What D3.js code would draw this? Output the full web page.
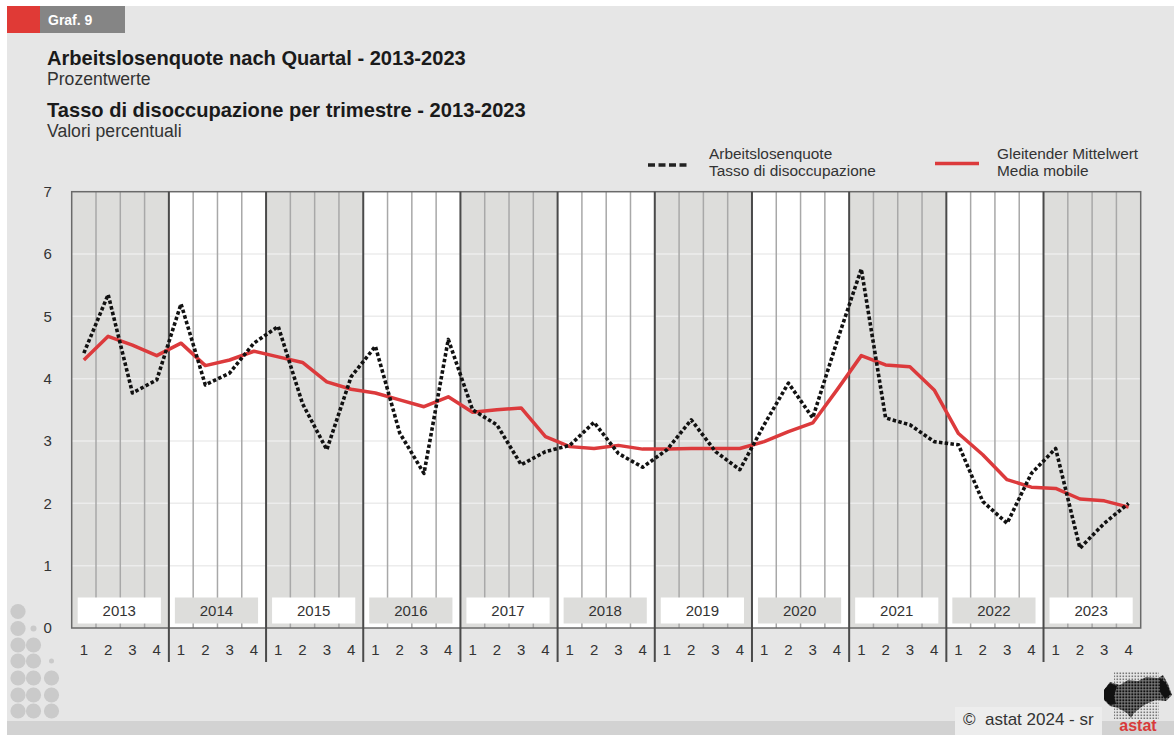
<!DOCTYPE html>
<html>
<head>
<meta charset="utf-8">
<script src="https://cdn.jsdelivr.net/npm/d3@7/dist/d3.min.js"></script>
<style>
  html, body { margin: 0; padding: 0; background: #ffffff; }
  svg { display: block; font-family: "Liberation Sans", Arial, Helvetica, sans-serif; }
</style>
</head>
<body>
<svg id="chart" width="1174" height="735"></svg>
<script>
// ---- data ----
const years = [2013, 2014, 2015, 2016, 2017, 2018, 2019, 2020, 2021, 2022, 2023];
const quarters = ["1", "2", "3", "4"];
const yTicks = [0, 1, 2, 3, 4, 5, 6, 7];
// Arbeitslosenquote / Tasso di disoccupazione (quarterly, %)
const rate = [4.41, 5.35, 3.77, 3.98, 5.20, 3.90, 4.09, 4.57, 4.84, 3.60, 2.86, 4.03,
              4.52, 3.13, 2.48, 4.63, 3.50, 3.26, 2.62, 2.83, 2.93, 3.30, 2.80, 2.58,
              2.86, 3.34, 2.83, 2.54, 3.26, 3.93, 3.37, 4.60, 5.76, 3.37, 3.26, 2.99,
              2.94, 2.03, 1.68, 2.48, 2.88, 1.28, 1.68, 2.00];
// Gleitender Mittelwert / Media mobile
const movingAvg = [4.30, 4.68, 4.54, 4.37, 4.57, 4.21, 4.30, 4.44, 4.35, 4.26, 3.95, 3.83,
                   3.77, 3.66, 3.55, 3.71, 3.46, 3.50, 3.53, 3.07, 2.91, 2.88, 2.93, 2.87,
                   2.87, 2.88, 2.88, 2.88, 2.99, 3.15, 3.29, 3.82, 4.37, 4.22, 4.19, 3.82,
                   3.12, 2.78, 2.38, 2.26, 2.24, 2.07, 2.04, 1.94];
const titleDe = "Arbeitslosenquote nach Quartal - 2013-2023";
const subDe = "Prozentwerte";
const titleIt = "Tasso di disoccupazione per trimestre - 2013-2023";
const subIt = "Valori percentuali";
const legendRate = ["Arbeitslosenquote", "Tasso di disoccupazione"];
const legendAvg = ["Gleitender Mittelwert", "Media mobile"];

// ---- layout ----
const W = 1174, H = 735;
const plot = { left: 71.7, right: 1140.7, top: 191.7, bottom: 628 };
const C = {
  page: "#e6e6e6", band: "#dddddb", white: "#ffffff", text: "#333333",
  red: "#dc3a3c", frame: "#6a6a6a", qline: "#a8a8a8", yline: "#4a4a4a"
};

const svg = d3.select("#chart");

// page background
svg.append("rect").attr("x", 0).attr("y", 0).attr("width", W).attr("height", H).attr("fill", "#ffffff");
svg.append("rect").attr("x", 7).attr("y", 6).attr("width", W - 7).attr("height", H - 6).attr("fill", C.page);
svg.append("rect").attr("x", 7).attr("y", 721).attr("width", W - 7).attr("height", 14).attr("fill", "#d2d2d2");

// header tag
svg.append("rect").attr("x", 7).attr("y", 6).attr("width", 33).attr("height", 27).attr("fill", "#e03a36");
svg.append("rect").attr("x", 40).attr("y", 6).attr("width", 85).attr("height", 27).attr("fill", "#858585");
svg.append("text").attr("x", 48).attr("y", 24.5).attr("fill", "#ffffff")
  .attr("font-size", 14).attr("font-weight", "bold").text("Graf. 9");

// titles
svg.append("text").attr("x", 47).attr("y", 65).attr("font-size", 20.1).attr("font-weight", "bold").attr("fill", "#1a1a1a").text(titleDe);
svg.append("text").attr("x", 47).attr("y", 85).attr("font-size", 17.6).attr("fill", "#333").text(subDe);
svg.append("text").attr("x", 47).attr("y", 117).attr("font-size", 20.1).attr("font-weight", "bold").attr("fill", "#1a1a1a").text(titleIt);
svg.append("text").attr("x", 47).attr("y", 136.5).attr("font-size", 17.6).attr("fill", "#333").text(subIt);

// legend
const lg = svg.append("g");
lg.append("line").attr("x1", 648).attr("x2", 690).attr("y1", 165).attr("y2", 165)
  .attr("stroke", "#222").attr("stroke-width", 3.5).attr("stroke-dasharray", "7 3.5");
lg.selectAll("text.l1").data(legendRate).join("text").attr("class", "l1")
  .attr("x", 709).attr("y", (d, i) => 159 + i * 17).attr("font-size", 15.4).attr("fill", "#333").text(d => d);
lg.append("line").attr("x1", 935).attr("x2", 979).attr("y1", 163.5).attr("y2", 163.5)
  .attr("stroke", C.red).attr("stroke-width", 3.5);
lg.selectAll("text.l2").data(legendAvg).join("text").attr("class", "l2")
  .attr("x", 997).attr("y", (d, i) => 159 + i * 17).attr("font-size", 15.4).attr("fill", "#333").text(d => d);

// scales
const idx = d3.range(years.length * quarters.length);
const x = d3.scaleBand().domain(idx).range([plot.left, plot.right]).paddingInner(0).paddingOuter(0);
const xc = i => x(i) + x.bandwidth() / 2;
const xYear = d3.scaleBand().domain(years).range([plot.left, plot.right]);
const y = d3.scaleLinear().domain([0, 7]).range([plot.bottom, plot.top]);

// year bands
svg.append("g").selectAll("rect").data(years).join("rect")
  .attr("x", d => xYear(d)).attr("y", plot.top)
  .attr("width", xYear.bandwidth()).attr("height", plot.bottom - plot.top)
  .attr("fill", (d, i) => i % 2 === 0 ? C.band : C.white);

// horizontal gridlines
svg.append("g").selectAll("line").data(yTicks.filter(t => t > 0 && t < 7)).join("line")
  .attr("x1", plot.left).attr("x2", plot.right)
  .attr("y1", d => y(d)).attr("y2", d => y(d))
  .attr("stroke", "#ececec").attr("stroke-width", 1.5);

// quarter lines
svg.append("g").selectAll("line").data(idx.filter(i => i % 4 !== 0)).join("line")
  .attr("x1", d => x(d)).attr("x2", d => x(d))
  .attr("y1", plot.top).attr("y2", plot.bottom)
  .attr("stroke", C.qline).attr("stroke-width", 1.5);

// year label boxes
const yb = svg.append("g");
yb.selectAll("rect").data(years).join("rect")
  .attr("x", d => xYear(d) + 6).attr("y", 597.5)
  .attr("width", xYear.bandwidth() - 14).attr("height", 26)
  .attr("fill", (d, i) => i % 2 === 0 ? C.white : C.band);
yb.selectAll("text").data(years).join("text")
  .attr("x", d => xYear(d) + 6 + (xYear.bandwidth() - 14) / 2).attr("y", 616)
  .attr("text-anchor", "middle").attr("font-size", 15).attr("fill", C.text).text(d => d);

// frame
svg.append("rect").attr("x", plot.left).attr("y", plot.top)
  .attr("width", plot.right - plot.left).attr("height", plot.bottom - plot.top)
  .attr("fill", "none").attr("stroke", C.frame).attr("stroke-width", 1.5);

// year separator lines
svg.append("g").selectAll("line").data(years.slice(1)).join("line")
  .attr("x1", d => xYear(d)).attr("x2", d => xYear(d))
  .attr("y1", plot.top).attr("y2", 662)
  .attr("stroke", C.yline).attr("stroke-width", 2);

// y axis
const yAxis = svg.append("g").attr("transform", `translate(${plot.left},0)`)
  .call(d3.axisLeft(y).tickValues(yTicks).tickSize(0).tickPadding(24).tickFormat(d3.format("d")));
yAxis.select(".domain").remove();
yAxis.selectAll("text").attr("font-size", 15).attr("fill", C.text)
  .attr("font-family", "Liberation Sans, Arial, sans-serif").attr("text-anchor", "middle");

// x axis (quarters)
const xAxis = svg.append("g").attr("transform", `translate(0,${plot.bottom})`)
  .call(d3.axisBottom(x).tickSize(0).tickPadding(16).tickFormat(i => quarters[i % 4]));
xAxis.select(".domain").remove();
xAxis.selectAll("text").attr("font-size", 15).attr("fill", C.text)
  .attr("font-family", "Liberation Sans, Arial, sans-serif");

// lines
const line = d3.line().x((d, i) => xc(i)).y(d => y(d));
svg.append("path").datum(movingAvg).attr("d", line)
  .attr("fill", "none").attr("stroke", C.red).attr("stroke-width", 3.5).attr("stroke-linejoin", "round");
svg.append("path").datum(rate).attr("d", line)
  .attr("fill", "none").attr("stroke", "#111").attr("stroke-width", 3.6)
  .attr("stroke-dasharray", "3.5 2.3").attr("stroke-linejoin", "round");

// decorative dots bottom-left
const dotCols = [18, 33.5, 51.5];
const dotRows = [611.5, 628.5, 645, 661, 678, 695, 711];
const dotSpec = [[1,0,0],[1,2,0],[1,1,0],[1,1,3],[1,1,1],[1,1,1],[1,1,1]];
const dots = [];
dotSpec.forEach((row, r) => row.forEach((v, c) => { if (v) dots.push({ x: dotCols[c], y: dotRows[r], r: v === 1 ? 7.6 : (v === 2 ? 3 : 2.5) }); }));
svg.append("g").selectAll("circle").data(dots).join("circle")
  .attr("cx", d => d.x).attr("cy", d => d.y).attr("r", d => d.r).attr("fill", "#cacaca");

// footer
svg.append("rect").attr("x", 955).attr("y", 707).attr("width", 147).attr("height", 28).attr("fill", "#ededed");
svg.append("text").attr("x", 963).attr("y", 725).attr("font-size", 17).attr("fill", "#333")
  .attr("xml:space", "preserve").text("\u00A9\u00A0\u00A0astat 2024 - sr");

// logo
const defs = svg.append("defs");
const pat = defs.append("pattern").attr("id", "dotpat").attr("patternUnits", "userSpaceOnUse")
  .attr("width", 3).attr("height", 3);
pat.append("rect").attr("width", 3).attr("height", 3).attr("fill", "#888");
pat.append("rect").attr("x", 0.3).attr("y", 0.3).attr("width", 2.1).attr("height", 2.1).attr("fill", "#111");
const patL = defs.append("pattern").attr("id", "dotpatL").attr("patternUnits", "userSpaceOnUse")
  .attr("width", 3).attr("height", 3);
patL.append("rect").attr("x", 0.5).attr("y", 0.5).attr("width", 1.6).attr("height", 1.6).attr("fill", "#777");
svg.append("rect").attr("x", 1114).attr("y", 672).attr("width", 45).attr("height", 47).attr("fill", "url(#dotpatL)");
svg.append("path")
  .attr("d", "M1104,690 L1110,682 L1120,685 L1128,680 L1138,681 L1146,677 L1158,678 L1163,675 L1168,684 L1172,695 L1166,701 L1156,700 L1146,704 L1140,708 L1134,713 L1131,718 L1127,713 L1118,708 L1110,706 L1104,700 Z")
  .attr("fill", "url(#dotpat)");
svg.append("path")
  .attr("d", "M1104,690 L1110,683 L1117,686 L1114,696 L1116,704 L1110,705 L1104,699 Z M1160,678 L1166,683 L1171,694 L1165,699 L1160,692 Z")
  .attr("fill", "#111");
svg.append("text").attr("x", 1138).attr("y", 731).attr("text-anchor", "middle")
  .attr("font-size", 16).attr("font-weight", "bold").attr("fill", "#d83a3a").text("astat");
</script>
</body>
</html>
